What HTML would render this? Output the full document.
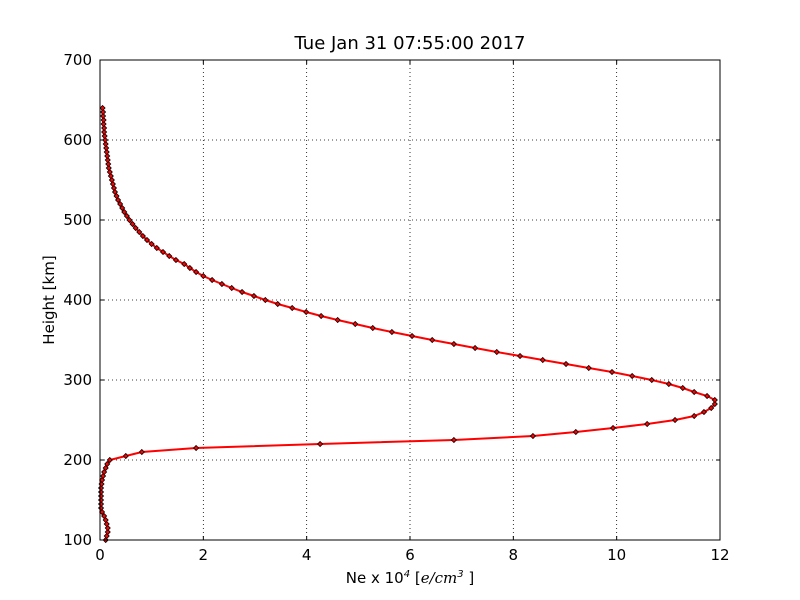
<!DOCTYPE html>
<html><head><meta charset="utf-8"><style>
body{margin:0;background:#fff;}
svg{display:block;font-family:"DejaVu Sans","Liberation Sans",sans-serif;}
</style></head><body>
<svg id="chart" width="800" height="600"></svg>
<script>
const heights=[];for(let h=100;h<=640;h+=5)heights.push(h);
const density=[0.11,0.13,0.15,0.15,0.13,0.11,0.08,0.04,0.02,0.02,0.02,0.02,0.02,0.02,0.03,0.04,0.06,0.08,0.11,0.14,0.19,0.5,0.81,1.86,4.26,6.85,8.38,9.21,9.93,10.59,11.13,11.5,11.69,11.83,11.9,11.9,11.75,11.5,11.28,11.01,10.68,10.3,9.91,9.46,9.02,8.57,8.13,7.68,7.26,6.85,6.43,6.04,5.65,5.28,4.94,4.6,4.28,3.99,3.72,3.44,3.2,2.98,2.75,2.55,2.36,2.17,2.0,1.86,1.74,1.63,1.47,1.34,1.22,1.1,1.0,0.91,0.83,0.76,0.69,0.63,0.57,0.52,0.47,0.43,0.39,0.35,0.32,0.29,0.27,0.25,0.23,0.21,0.19,0.17,0.16,0.15,0.14,0.13,0.12,0.11,0.1,0.09,0.08,0.08,0.07,0.07,0.06,0.06,0.05];
const xTicks=[0,2,4,6,8,10,12];
const yTicks=[100,200,300,400,500,600,700];
const NS="http://www.w3.org/2000/svg";
const svg=document.getElementById('chart');
const L=100,R=720,T=60,B=540;
const xs=v=>L+(v-0)/12*(R-L);
const ys=v=>B-(v-100)/600*(B-T);
function el(t,a,p){const e=document.createElementNS(NS,t);for(const k in a)e.setAttribute(k,a[k]);(p||svg).appendChild(e);return e;}
const grid=el('g',{});


xTicks.forEach(t=>{
  if(t>0&&t<12){const g=el('line',{x1:xs(t),x2:xs(t),y1:T,y2:B,stroke:'#000','stroke-dasharray':'1,3','stroke-width':0.8},grid);
  
  }
  el('line',{x1:xs(t),x2:xs(t),y1:B,y2:B-4,stroke:'#000'});
  el('line',{x1:xs(t),x2:xs(t),y1:T,y2:T+4,stroke:'#000'});
  const tx=el('text',{x:xs(t),y:B+20,'text-anchor':'middle','font-size':15});tx.textContent=t;
  
  
});
yTicks.forEach(t=>{
  if(t>100&&t<700){const g=el('line',{x1:L,x2:R,y1:ys(t),y2:ys(t),stroke:'#000','stroke-dasharray':'1,3','stroke-width':0.8},grid);
  
  }
  el('line',{x1:L,x2:L+4,y1:ys(t),y2:ys(t),stroke:'#000'});
  el('line',{x1:R,x2:R-4,y1:ys(t),y2:ys(t),stroke:'#000'});
  const tx=el('text',{x:L-8,y:ys(t)+5,'text-anchor':'end','font-size':15});tx.textContent=t;
  
  
});
const pts=heights.map((h,i)=>xs(density[i])+','+ys(h)).join(' ');
const line=el('polyline',{points:pts,fill:'none',stroke:'#f00','stroke-width':2});


heights.forEach((h,i)=>{
  const x=xs(density[i]),y=ys(h);
  const m=el('polygon',{points:`${x},${y-2.5} ${x+2.5},${y} ${x},${y+2.5} ${x-2.5},${y}`,fill:'#f00',stroke:'#000','stroke-width':0.8});
  
  
});
const frame=el('rect',{x:L,y:T,width:R-L,height:B-T,fill:'none',stroke:'#000','stroke-width':1});


</script>
<svg width="800" height="600" style="position:absolute;left:0;top:0">
<text x="410" y="49" text-anchor="middle" font-size="18" font-family="DejaVu Sans,sans-serif">Tue Jan 31 07:55:00 2017</text>
<text x="410" y="583" text-anchor="middle" font-size="15" font-family="DejaVu Sans,sans-serif">Ne x 10<tspan font-size="10" dy="-6" font-style="italic">4</tspan><tspan dy="6">  [</tspan><tspan font-style="italic" font-family="DejaVu Serif,serif">e/cm</tspan><tspan font-size="10" dy="-6" font-style="italic">3</tspan><tspan dy="6"> ]</tspan></text>
<text x="54" y="300" text-anchor="middle" font-size="15" font-family="DejaVu Sans,sans-serif" transform="rotate(-90 54 300)">Height [km]</text>
</svg>
</body></html>
